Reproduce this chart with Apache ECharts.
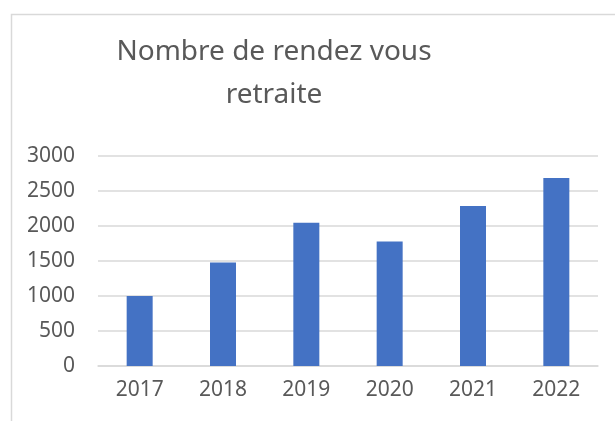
<!DOCTYPE html>
<html>
<head>
<meta charset="utf-8">
<script src="https://cdn.jsdelivr.net/npm/echarts@6/dist/echarts.min.js"></script>
<style>
  html, body { margin: 0; padding: 0; background: #fff; }
  #chart { width: 615px; height: 421px; }
</style>
</head>
<body>
<div id="chart"></div>
<script>
  var titleText = 'Nombre de rendez vous\nretraite';
  var years = ['2017', '2018', '2019', '2020', '2021', '2022'];
  var rdvCounts = [1000, 1480, 2045, 1780, 2285, 2685];
  var yTicks = { min: 0, max: 3000, interval: 500 };

  var chart = echarts.init(document.getElementById('chart'));
  chart.setOption({
    backgroundColor: '#fff',
    animation: false,
    graphic: [{
      type: 'rect',
      left: 9,
      top: 12,
      shape: { width: 640, height: 440 },
      style: { fill: 'none', stroke: '#d9d9d9', lineWidth: 1.5 },
      silent: true
    }, {
      // title drawn as text so both lines stay centred on the same x
      type: 'text',
      x: 274,
      y: 31,
      silent: true,
      style: {
        text: titleText,
        align: 'center',
        verticalAlign: 'top',
        fontFamily: 'Noto Sans',
        fontSize: 28,
        lineHeight: 43,
        fill: '#595959'
      }
    }],
    grid: { left: 98, right: 17, top: 156, bottom: 55, containLabel: false },
    xAxis: {
      type: 'category',
      data: years,
      axisLine: { show: true, lineStyle: { color: '#d9d9d9', width: 1.5 } },
      axisTick: { show: false },
      axisLabel: {
        fontFamily: 'Noto Sans',
        fontSize: 21,
        color: '#595959',
        margin: 14
      }
    },
    yAxis: {
      type: 'value',
      min: yTicks.min,
      max: yTicks.max,
      interval: yTicks.interval,
      axisLine: { show: false },
      axisTick: { show: false },
      splitLine: { lineStyle: { color: '#d9d9d9', width: 1.5 } },
      axisLabel: {
        fontFamily: 'Noto Sans',
        fontSize: 21,
        color: '#595959',
        margin: 23,
        formatter: function (v) { return String(v); }
      }
    },
    series: [{
      type: 'bar',
      data: rdvCounts,
      barWidth: 26,
      itemStyle: { color: '#4472c4' }
    }]
  });
</script>
</body>
</html>
